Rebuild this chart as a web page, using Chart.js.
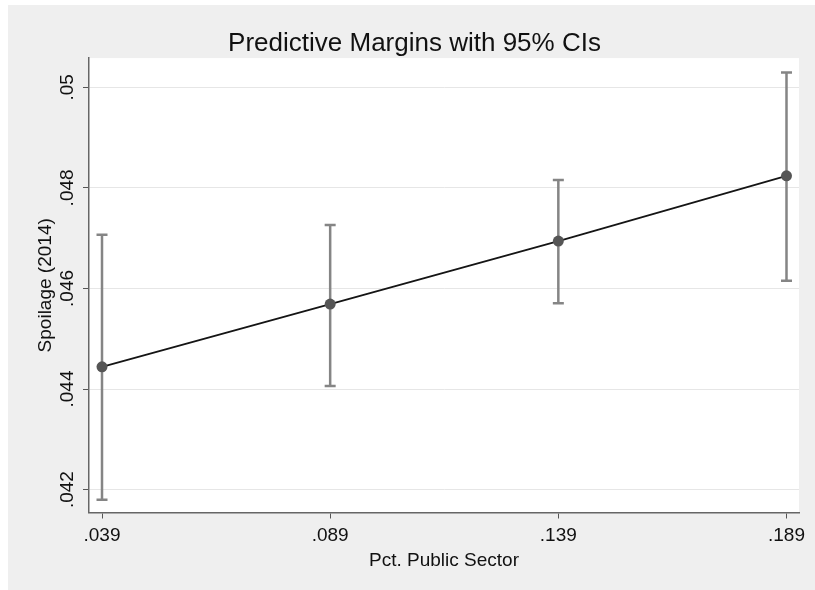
<!DOCTYPE html>
<html>
<head>
<meta charset="utf-8">
<script src="https://cdn.jsdelivr.net/npm/chart.js@4.4.0/dist/chart.umd.min.js"></script>
<style>
  html, body { margin: 0; padding: 0; background: #ffffff; }
  #bg { position: absolute; left: 8px; top: 5px; width: 807px; height: 585px; background: #efefef; }
  #wrap { position: absolute; left: 0; top: 0; width: 815px; height: 590px; }
</style>
</head>
<body>
<div id="bg"></div>
<div id="wrap"><canvas id="marginsChart" width="815" height="590"></canvas></div>
<script>
// Datos
const pctPublic = [0.039, 0.089, 0.139, 0.189];
const margin    = [0.044443, 0.045690, 0.046942, 0.048241];
const ciLow     = [0.041800, 0.044060, 0.045704, 0.046153];
const ciHigh    = [0.047070, 0.047260, 0.048155, 0.050296];

const xTicks = [0.039, 0.089, 0.139, 0.189];
const yTicks = [0.042, 0.044, 0.046, 0.048, 0.05];

// quitar el cero inicial, estilo Stata
function stataFmt(v) {
    return String(+v.toFixed(3)).replace(/^0\./, '.');
}

const FONT = 'Liberation Sans, Arial, Helvetica, sans-serif';

// fondo blanco del area de graficos
const plotBg = {
    id: 'plotBg',
    beforeDraw(chart) {
        const { ctx, chartArea: a } = chart;
        ctx.save();
        ctx.fillStyle = '#ffffff';
        ctx.fillRect(a.left, a.top, a.right - a.left, a.bottom - a.top);
        ctx.restore();
    }
};

// barras de intervalo de confianza
const errorBars = {
    id: 'errorBars',
    beforeDatasetsDraw(chart) {
        const { ctx, scales: { x, y } } = chart;
        ctx.save();
        ctx.strokeStyle = '#858585';
        ctx.lineWidth = 2.5;
        const cap = 5.5;
        pctPublic.forEach((xv, i) => {
            const px = x.getPixelForValue(xv);
            const top = y.getPixelForValue(ciHigh[i]);
            const bot = y.getPixelForValue(ciLow[i]);
            ctx.beginPath();
            ctx.moveTo(px, top);
            ctx.lineTo(px, bot);
            ctx.moveTo(px - cap, top);
            ctx.lineTo(px + cap, top);
            ctx.moveTo(px - cap, bot);
            ctx.lineTo(px + cap, bot);
            ctx.stroke();
        });
        ctx.restore();
    }
};

// etiquetas del eje y giradas y centradas en cada marca
const yLabels = {
    id: 'yLabels',
    afterDraw(chart) {
        const { ctx, scales: { y } } = chart;
        ctx.save();
        ctx.fillStyle = '#111';
        ctx.font = '19px ' + FONT;
        ctx.textAlign = 'center';
        ctx.textBaseline = 'middle';
        yTicks.forEach(v => {
            ctx.save();
            ctx.translate(67.5, y.getPixelForValue(v));
            ctx.rotate(-Math.PI / 2);
            ctx.fillText(stataFmt(v), 0, 0);
            ctx.restore();
        });
        ctx.restore();
    }
};

new Chart(document.getElementById('marginsChart'), {
    type: 'line',
    data: {
        datasets: [{
            data: pctPublic.map((xv, i) => ({ x: xv, y: margin[i] })),
            borderColor: '#151515',
            borderWidth: 1.8,
            pointRadius: 5.5,
            pointBackgroundColor: '#555555',
            pointBorderWidth: 0,
            tension: 0
        }]
    },
    options: {
        responsive: false,
        animation: false,
        layout: { padding: { left: 30, right: 16, top: 0, bottom: 0 } },
        plugins: {
            legend: { display: false },
            tooltip: { enabled: false },
            title: {
                display: true,
                text: 'Predictive Margins with 95% CIs',
                color: '#111',
                font: { family: FONT, size: 26, weight: 'normal', lineHeight: 1.1 },
                padding: { top: 29.5, bottom: 0 }
            }
        },
        scales: {
            x: {
                type: 'linear',
                min: 0.03615,
                max: 0.19174,
                afterBuildTicks: s => { s.ticks = xTicks.map(v => ({ value: v })); },
                afterFit: s => { s.height = 77.5; },
                ticks: {
                    callback: v => stataFmt(v),
                    color: '#111',
                    font: { family: FONT, size: 19 },
                    padding: 6,
                    maxRotation: 0,
                    minRotation: 0
                },
                grid: { drawOnChartArea: false, tickColor: '#555', tickLength: 6 },
                border: { color: '#666', width: 1.5 },
                title: {
                    display: true,
                    text: 'Pct. Public Sector',
                    color: '#111',
                    font: { family: FONT, size: 19 },
                    padding: { top: 0, bottom: 18 }
                }
            },
            y: {
                type: 'linear',
                min: 0.041545,
                max: 0.050581,
                afterBuildTicks: s => { s.ticks = yTicks.map(v => ({ value: v })); },
                afterFit: s => { s.width = 59; },
                ticks: { display: false },
                grid: { color: '#e6e6e6', tickColor: '#555', tickLength: 6 },
                border: { color: '#666', width: 1.5 },
                title: {
                    display: true,
                    text: 'Spoilage (2014)',
                    color: '#111',
                    font: { family: FONT, size: 19 },
                    padding: { top: 4 }
                }
            }
        }
    },
    plugins: [plotBg, errorBars, yLabels]
});
</script>
</body>
</html>
